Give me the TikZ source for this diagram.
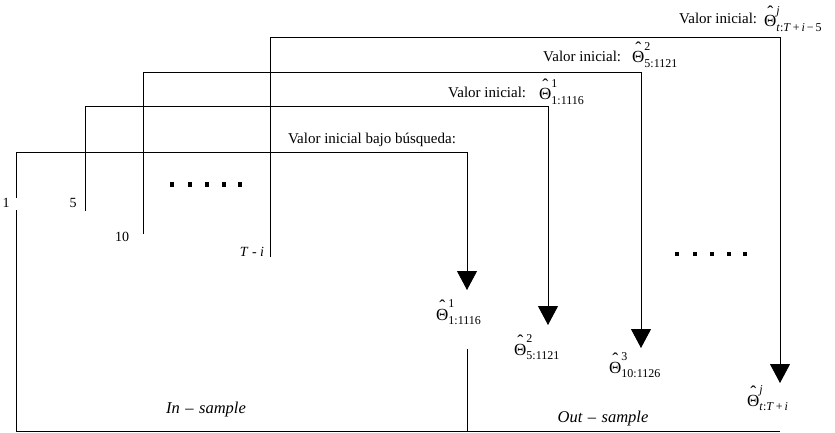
\documentclass[tikz,border=0pt]{standalone}
\usepackage{fontspec}
\setmainfont{Liberation Serif}
\usetikzlibrary{arrows.meta}
\newcommand{\fsz}[1]{\fontsize{#1}{#1}\selectfont}
\newsavebox\thbox
\newcommand{\Thlab}[2]{\sbox\thbox{\fsz{17}Θ}\rlap{\makebox[\wd\thbox][c]{\raisebox{8pt}{\fsz{18}ˆ}}}\usebox\thbox\rlap{\raisebox{12.5pt}{\fsz{12}#1}}\raisebox{-4.5pt}{\fsz{12}#2}}
\begin{document}
\begin{tikzpicture}[x=1pt,y=-1pt,
  ln/.style={line width=0.9pt,draw=black},
  arr/.style={ln,-{Triangle[width=20pt,length=19pt]}},
  txt/.style={inner sep=0pt,font=\fsz{15}},
  num/.style={inner sep=0pt,font=\fsz{14}},
  th/.style={inner sep=0pt,anchor=base west},
  smp/.style={inner sep=0pt,anchor=base,font=\fsz{16.5}\itshape},
  dot/.style={fill=black}]
\useasboundingbox (0,0) rectangle (835,433);
% coordinates
\coordinate (a1) at (16,198);
\coordinate (c1) at (16,152);
\coordinate (d1) at (467,152);
\coordinate (e1) at (467,290);
\coordinate (g1) at (16,210);
\coordinate (h1) at (16,431);
\coordinate (k1) at (780,431);
\coordinate (m1) at (467,349);
\coordinate (n1) at (467,431);
\coordinate (a2) at (85,211);
\coordinate (c2) at (85,106);
\coordinate (d2) at (548,106);
\coordinate (e2) at (548,325);
\coordinate (a3) at (143,234);
\coordinate (c3) at (143,72);
\coordinate (d3) at (641,72);
\coordinate (e3) at (641,348);
\coordinate (a4) at (270,257);
\coordinate (c4) at (270,37);
\coordinate (d4) at (780,37);
\coordinate (e4) at (780,383);
% lines
\draw[arr] (a1) -- (c1) -- (d1) -- (e1);
\draw[ln] (g1) -- (h1) -- (k1);
\draw[ln] (m1) -- (n1);
\draw[arr] (a2) -- (c2) -- (d2) -- (e2);
\draw[arr] (a3) -- (c3) -- (d3) -- (e3);
\draw[arr] (a4) -- (c4) -- (d4) -- (e4);
% top labels
\node[txt,anchor=base] (t0) at (372,143) {Valor inicial bajo búsqueda:};
\node[txt,anchor=base west] (t1) at (448,98) {Valor inicial:};
\node[th] (p1) at (539,100) {\Thlab{1}{1:1116}};
\node[txt,anchor=base west] (t2) at (543,62) {Valor inicial:};
\node[th] (p2) at (632,63) {\Thlab{2}{5:1121}};
\node[txt,anchor=base west] (t3) at (679,24) {Valor inicial:};
\node[th] (p3) at (764,27) {\Thlab{\textit{j}}{\textit{t}:\textit{T}\,+\,\textit{i}\,−\,5}};
% bottom labels
\node[th] (b1) at (436,320) {\Thlab{1}{1:1116}};
\node[th] (b2) at (514,355) {\Thlab{2}{5:1121}};
\node[th] (b3) at (609,373) {\Thlab{3}{10:1126}};
\node[th] (b4) at (747,406) {\Thlab{\textit{j}}{\textit{t}:\textit{T}\,+\,\textit{i}}};
% numbers
\node[num,anchor=base] (n1l) at (6,207) {1};
\node[num,anchor=base] (n5l) at (73,207) {5};
\node[num,anchor=base] (n10l) at (122,241) {10};
\node[num,anchor=base] (nTl) at (252,256) {\textit{T} - \textit{i}};
% sample labels
\node[smp] (ins) at (206,413) {In\,\,–\,\,sample};
\node[smp] (outs) at (603,422) {Out\,\,–\,\,sample};
% dots
\foreach \x in {172,190,207,224,240} \fill[dot] (\x-2.2,182.3) rectangle (\x+2.2,186.7);
\foreach \x in {677,695,712,729,745} \fill[dot] (\x-2.2,251.8) rectangle (\x+2.2,256.2);
\end{tikzpicture}
\end{document}
